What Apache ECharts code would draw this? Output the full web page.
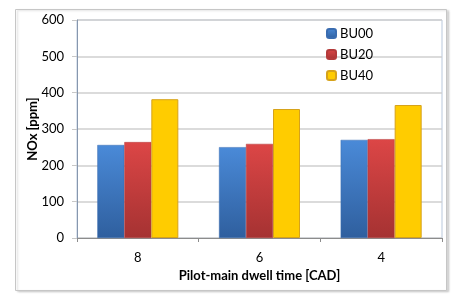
<!DOCTYPE html>
<html>
<head>
<meta charset="utf-8">
<script src="https://cdn.jsdelivr.net/npm/echarts@6/dist/echarts.min.js"></script>
<style>
html,body{margin:0;padding:0;background:#fff;}
#c{width:468px;height:302px;}
</style>
</head>
<body>
<div id="c"></div>
<script>
const categories = ['8', '6', '4'];
const bu00 = [256, 250, 270];
const bu20 = [264, 259, 272];
const bu40 = [382, 355, 366];
const yTicks = [0, 100, 200, 300, 400, 500, 600];

const font = 'Lato, "Open Sans", sans-serif';
function grad(top, bottom) {
  return new echarts.graphic.LinearGradient(0, 0, 0, 1, [
    { offset: 0, color: top }, { offset: 1, color: bottom }
  ]);
}
const chart = echarts.init(document.getElementById('c'), null, { renderer: 'canvas' });
chart.setOption({
  backgroundColor: '#fff',
  animation: false,
  textStyle: { fontFamily: font },
  graphic: [{
    type: 'rect', left: 15, top: 9, z: -10,
    shape: { width: 431, height: 281 },
    style: { fill: '#fff', stroke: '#c6c6c6', lineWidth: 1, shadowColor: 'rgba(0,0,0,0.15)', shadowOffsetX: 2, shadowOffsetY: 1, shadowBlur: 2 }
  }],
  grid: { left: 77, top: 20, width: 365, height: 218, show: true, borderColor: '#b9c8dc', borderWidth: 1, backgroundColor: 'transparent' },
  legend: {
    orient: 'vertical', left: 321, top: 22, itemWidth: 9, itemHeight: 9, itemGap: 8,
    padding: 5,
    textStyle: { fontFamily: font, fontSize: 13, color: '#000', padding: [0, 0, 0, -1] },
    data: ['BU00', 'BU20', 'BU40']
  },
  xAxis: {
    type: 'category', data: categories,
    name: 'Pilot-main dwell time [CAD]', nameLocation: 'middle', nameGap: 31,
    nameMoveOverlap: false,
    nameTextStyle: { fontFamily: font, fontSize: 13, fontWeight: 'bold', color: '#000' },
    axisLine: { lineStyle: { color: '#8c8c8c', width: 1 } },
    axisTick: { show: true, length: 4, lineStyle: { color: '#8c8c8c' } },
    axisLabel: { fontFamily: font, fontSize: 13, color: '#000', margin: 13 }
  },
  yAxis: {
    type: 'value', min: 0, max: 600, interval: 100,
    name: 'NOx [ppm]', nameLocation: 'middle', nameGap: 38,
    nameMoveOverlap: false,
    nameTextStyle: { fontFamily: font, fontSize: 13, fontWeight: 'bold', color: '#000' },
    axisLine: { show: true, lineStyle: { color: '#8797ae', width: 1 } },
    axisTick: { show: true, length: 5, lineStyle: { color: '#c8c8c8' } },
    axisLabel: { fontFamily: font, fontSize: 13, color: '#000', margin: 13, formatter: v => yTicks.includes(v) ? String(v) : '' },
    splitLine: { lineStyle: { color: '#cfcfcf', width: 1.5 } }
  },
  series: [
    { name: 'BU00', type: 'bar', data: bu00, barWidth: 27, barGap: '0%',
      itemStyle: { color: grad('#4a8ad8', '#2f5f9e'), borderColor: '#3a6cb0', borderWidth: 0.5 } },
    { name: 'BU20', type: 'bar', data: bu20, barWidth: 27, barGap: '0%',
      itemStyle: { color: grad('#dc4646', '#a53232'), borderColor: '#b33a3a', borderWidth: 0.5 } },
    { name: 'BU40', type: 'bar', data: bu40, barWidth: 27, barGap: '0%',
      itemStyle: { color: '#ffcc00', borderColor: '#d6a21a', borderWidth: 1 } }
  ]
});
</script>
</body>
</html>
